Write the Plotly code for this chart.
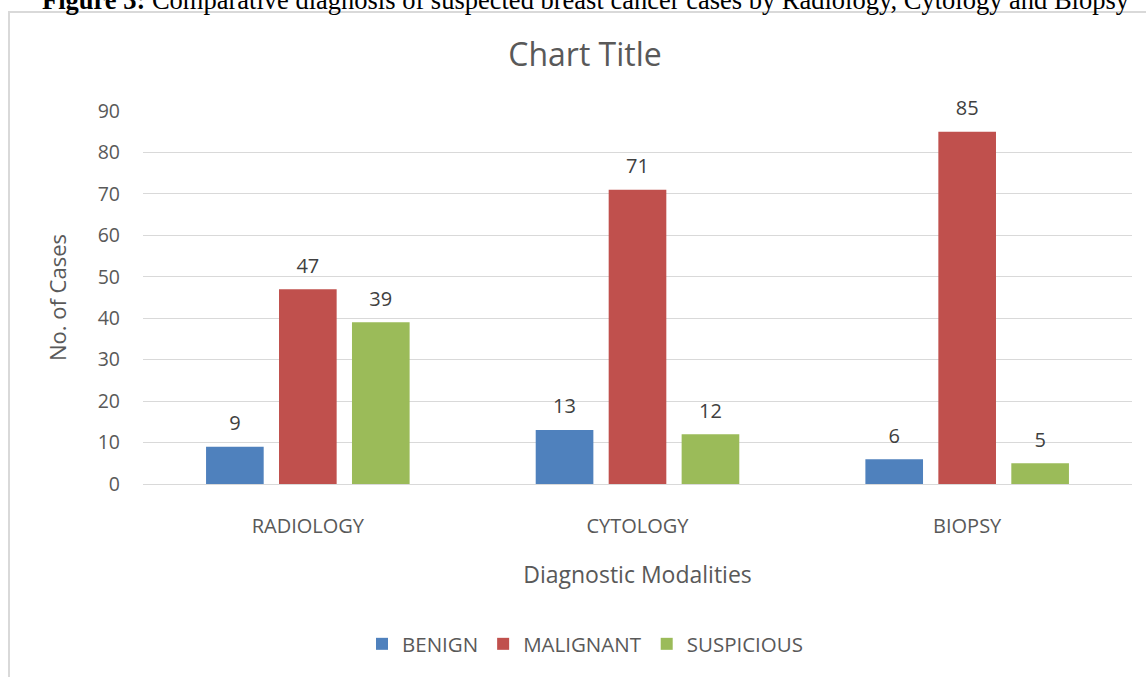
import plotly.graph_objects as go

categories = ["RADIOLOGY", "CYTOLOGY", "BIOPSY"]
benign = [9, 13, 6]
malignant = [47, 71, 85]
suspicious = [39, 12, 5]
series_names = ["BENIGN", "MALIGNANT", "SUSPICIOUS"]
colors = ["#4F81BD", "#C0504D", "#9BBB59"]
y_ticks = [0, 10, 20, 30, 40, 50, 60, 70, 80, 90]

W, H = 1146, 677
L, R, T, B = 143, 14, 111, 193
PW, PH = W - L - R, H - T - B

def px_x(p):
    return (p - L) / PW

def px_y(p):
    return (H - B - p) / PH

FONT = "Open Sans"
TXT = "#595959"
BARGAP = 0.336

fig = go.Figure()
series = [benign, malignant, suspicious]
for i, (name, vals, col) in enumerate(zip(series_names, series, colors)):
    fig.add_trace(go.Bar(
        x=categories, y=vals, name=name, offsetgroup=str(i),
        marker=dict(color=col, line=dict(width=0)),
    ))
# data labels, aligned with the grouped bars
for i, (name, vals) in enumerate(zip(series_names, series)):
    fig.add_trace(go.Scatter(
        x=categories, y=vals, mode="markers+text", offsetgroup=str(i),
        marker=dict(size=17, color="rgba(0,0,0,0)"),
        text=[str(v) for v in vals], textposition="top center",
        textfont=dict(family=FONT, size=20, color="#404040"),
        showlegend=False, hoverinfo="skip", cliponaxis=False,
    ))

fig.update_layout(
    width=W, height=H,
    margin=dict(l=L, r=R, t=T, b=B, autoexpand=False),
    paper_bgcolor="white", plot_bgcolor="white",
    barmode="group", bargap=BARGAP, bargroupgap=0.21,
    scattermode="group", scattergap=BARGAP,
    font=dict(family=FONT, color=TXT),
    title=dict(text="Chart Title", xref="paper", x=px_x(585), xanchor="center",
               yref="container", y=1 - 55 / H, yanchor="middle",
               font=dict(family=FONT, size=32, color=TXT)),
    legend=dict(orientation="h", x=px_x(585), xanchor="center",
                y=px_y(644), yanchor="middle",
                font=dict(family=FONT, size=20.5, color=TXT),
                itemsizing="constant", traceorder="normal"),
    showlegend=True,
)
fig.update_yaxes(range=[0, 90], tickvals=y_ticks, showgrid=True,
                 gridcolor="#D9D9D9", gridwidth=1.3, zeroline=False,
                 showline=False, ticks="", ticklabelstandoff=22,
                 tickfont=dict(family=FONT, size=19.5, color=TXT),
                 title=dict(text="No. of Cases", standoff=24,
                            font=dict(family=FONT, size=22, color=TXT)))
fig.update_xaxes(showline=True, linecolor="#D9D9D9", linewidth=1.3,
                 ticks="", ticklabelstandoff=24,
                 tickfont=dict(family=FONT, size=20, color=TXT),
                 title=dict(text="Diagnostic Modalities", standoff=28,
                            font=dict(family=FONT, size=23, color=TXT)))

# chart-area border (as cropped in the reference)
fig.add_shape(type="rect", xref="paper", yref="paper",
              x0=px_x(9), x1=px_x(1170), y0=px_y(12), y1=px_y(720),
              line=dict(color="#D9D9D9", width=2), fillcolor="rgba(0,0,0,0)",
              layer="below")

# document caption above chart (cropped at top)
fig.add_annotation(xref="paper", yref="paper", x=px_x(40), y=px_y(0),
                   xanchor="left", yanchor="middle", showarrow=False,
                   text="<b>Figure 3:</b> Comparative diagnosis of suspected breast cancer cases by Radiology, Cytology and Biopsy",
                   font=dict(family="Liberation Serif", size=26.5, color="black"))

fig.write_html("out.html", config={"displayModeBar": False},
               post_script="document.body.style.margin='0';")
